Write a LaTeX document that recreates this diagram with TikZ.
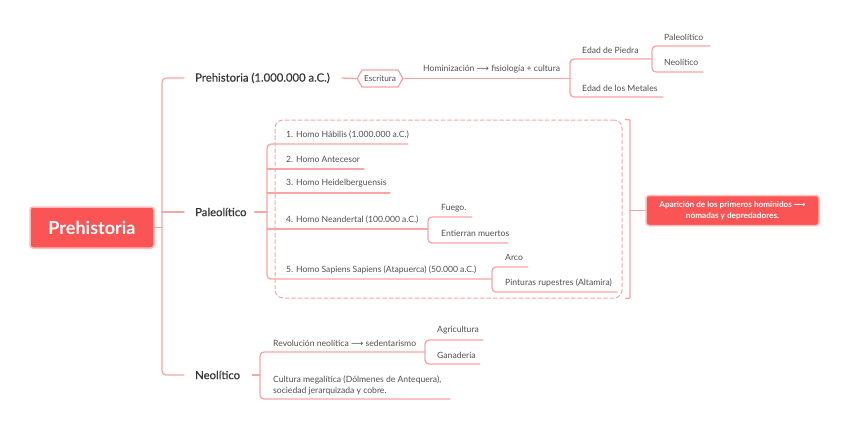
\documentclass[tikz,border=0pt]{standalone}
\usepackage{fontspec}
\setmainfont{Lato}
\newfontfamily\arrowfont{DejaVu Sans}
\newfontfamily\topicfont{Lato}[FakeBold=0.5]
\usetikzlibrary{shapes.symbols}
\definecolor{linepink}{RGB}{248,165,165}
\definecolor{boxred}{RGB}{250,84,84}
\definecolor{boxedge}{RGB}{255,185,185}
\definecolor{textdark}{RGB}{55,55,55}
\definecolor{textgray}{RGB}{80,80,80}
\newcommand{\arr}{{\arrowfont ⟶}}
\begin{document}
\begin{tikzpicture}[x=1pt,y=-1pt,line join=round,line cap=round,
	line/.style={draw=linepink, line width=1.3pt, rounded corners=4pt},
	topic/.style={font=\topicfont\fontsize{11.3}{13}\selectfont, text=textdark, anchor=west, inner sep=0pt},
	sub/.style={font=\fontsize{8.6}{11}\selectfont, text=textgray, anchor=west, inner sep=0pt},
	redbox/.style={fill=boxred, draw=boxedge, line width=1.5pt, rounded corners=3pt, text=white, font=\bfseries}]
	\useasboundingbox (0,0) rectangle (848,429);
	
	% root and main branches
	\node[redbox, minimum width=124pt, minimum height=41pt, font=\fontsize{18}{20}\bfseries\selectfont] (root) at (92,227.5) {Prehistoria};
	\node[topic] (pre) at (195,78) {Prehistoria (1.000.000 a.C.)};
	\node[topic] (pal) at (195,212) {Paleolítico};
	\node[topic] (neo) at (195,375) {Neolítico};
	
	\coordinate (trunk) at (162,227.5);
	\draw[line] (root.east) -- (trunk);
	\draw[line] ([xshift=-11pt]pre.west) -| (trunk) |- ([xshift=-11pt]neo.west);
	\draw[line] (162,212) -- ([xshift=-11pt]pal.west);
	
	% Prehistoria (1.000.000 a.C.)
	\node[draw=linepink, line width=1.3pt, fill=white, shape=signal, signal to=west and east, signal pointer angle=120,
		font=\fontsize{8.3}{9}\selectfont, text=textgray, inner xsep=2pt, minimum height=17pt] (escr) at (380,78.5) {Escritura};
	\draw[line] ([xshift=12pt]pre.east) -- (escr.west);
	\node[sub] (homin) at (423,69) {Hominización \arr\ fisiología + cultura};
	\coordinate (edad) at (570,78.5);
	\draw[line] (escr.east) -- (edad);
	\draw[line] (652,59) -| (edad) |- (663,97);
	\node[sub] (piedra) at (582,50) {Edad de Piedra};
	\node[sub] (metal) at (582,88) {Edad de los Metales};
	\draw[line] (710,46) -| (652,59) |- (703,72);
	\node[sub] (pal2) at (664,37) {Paleolítico};
	\node[sub] (neo2) at (664,62) {Neolítico};
	
	% Paleolítico
	\node[draw=linepink, line width=1pt, dashed, dash pattern=on 4pt off 2.5pt, rounded corners=8pt,
		minimum width=347pt, minimum height=178pt] (grp) at (448.5,209) {};
	\coordinate (homo) at (267,212);
	\draw[line] ([xshift=8pt]pal.east) -- (homo);
	\draw[line] (408,144) -| (homo) |- (492,279);
	\draw[line] (267,169) -- (364,169);
	\draw[line] (267,193) -- (390,193);
	\draw[line] (267,229) -- (428,229);
	\node[sub] (h1) at (286,135) {1. Homo Hábilis (1.000.000 a.C.)};
	\node[sub] (h2) at (286,159) {2. Homo Antecesor};
	\node[sub] (h3) at (286,183) {3. Homo Heidelberguensis};
	\node[sub] (h4) at (286,220) {4. Homo Neandertal (100.000 a.C.)};
	\node[sub] (h5) at (286,270) {5. Homo Sapiens Sapiens (Atapuerca) (50.000 a.C.)};
	\draw[line] (472,217) -| (428,229) |- (508,243);
	\node[sub] (fuego) at (441,208) {Fuego.};
	\node[sub] (muertos) at (441,233) {Entierran muertos};
	\draw[line] (528,267) -| (492,279) |- (617,292);
	\node[sub] (arco) at (505,257) {Arco};
	\node[sub] (pint) at (505,283) {Pinturas rupestres (Altamira)};
	
	\node[redbox, minimum width=173pt, minimum height=30pt, align=center, font=\fontsize{8.2}{10.5}\bfseries\selectfont] (apar) at (732.5,210.5)
		{Aparición de los primeros homínidos \arr\\ nómadas y depredadores.};
	\draw[line, rounded corners=0pt] ([xshift=3pt]grp.north east) -- (630,120) -- (630,298) -- ([xshift=3pt]grp.south east);
	\draw[line] (630,210.5) -- (apar.west);
	
	% Neolítico
	\coordinate (revo) at (260,375);
	\draw[line] ([xshift=12pt]neo.east) -- (revo);
	\draw[line] (425,352) -| (revo) |- (450,399);
	\node[sub] (rev) at (273,343) {Revolución neolítica \arr\ sedentarismo};
	\draw[line] (483,340) -| (425,352) |- (480,364);
	\node[sub] (agri) at (437,330) {Agricultura};
	\node[sub] (gana) at (437,355) {Ganadería};
	\node[sub, align=left] (megal) at (273,385.5) {Cultura megalítica (Dólmenes de Antequera),\\sociedad jerarquizada y cobre.};
\end{tikzpicture}
\end{document}
